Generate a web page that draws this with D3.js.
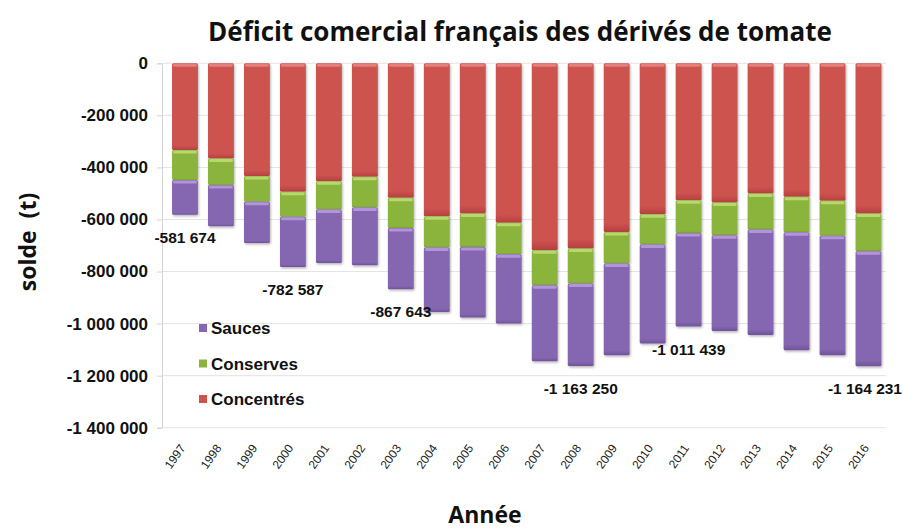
<!DOCTYPE html>
<html>
<head>
<meta charset="utf-8">
<script src="https://cdn.jsdelivr.net/npm/d3@7"></script>
<style>
  html, body { margin: 0; padding: 0; background: #fff; }
  svg { display: block; }
</style>
</head>
<body>
<svg id="chart" width="903" height="530"></svg>
<script>
// ---- Data (tonnes, trade deficit per product family) ----
const years = ["1997","1998","1999","2000","2001","2002","2003","2004","2005","2006",
               "2007","2008","2009","2010","2011","2012","2013","2014","2015","2016"];
const concentres = [333400, 365400, 433400, 493800, 452700, 436100, 516900, 587300, 576900, 613000,
                    718000, 711500, 647700, 579600, 525700, 534600, 500000, 513000, 528400, 576900];
const conserves  = [115400, 102600,  98900,  96200, 108800, 117700, 115400, 120400, 128500, 120400,
                    134700, 134600, 121500, 116500, 125800, 125800, 138400, 135800, 134600, 145000];
const sauces     = [132874, 157700, 157700, 192587, 205400, 221900, 235343, 247600, 271500, 266600,
                    292300, 317150, 352700, 380800, 359939, 368000, 405400, 453800, 458900, 442331];
const seriesNames = ["Concentrés", "Conserves", "Sauces"];
const legendOrder = ["Sauces", "Conserves", "Concentrés"];
const yTicks = [0, -200000, -400000, -600000, -800000, -1000000, -1200000, -1400000];
const labelledYears = ["1997", "2000", "2003", "2008", "2011", "2016"];
const titleText = "Déficit comercial français des dérivés de tomate";
const yTitle = "solde  (t)";
const xTitle = "Année";

// ---- Setup ----
const W = 903;
const svg = d3.select("#chart");
const fr = d3.formatLocale({decimal: ",", thousands: " ", grouping: [3], currency: ["", " €"], minus: "-"});
const fmt = fr.format(",d");

const colors = {
  "Concentrés": {base: "#cd5250", light: "#e8847f", dark: "#b4403e"},
  "Conserves":  {base: "#8bb43d", light: "#bddc72", dark: "#77a02c"},
  "Sauces":     {base: "#8566b0", light: "#b899e0", dark: "#6f539a"}
};

const rows = years.map((yr, i) => ({
  year: yr,
  "Concentrés": -concentres[i],
  "Conserves": -conserves[i],
  "Sauces": -sauces[i]
}));

const x = d3.scaleBand().domain(years).range([167, 886.5]).paddingInner(0.28).paddingOuter(0.14);
const y = d3.scaleLinear().domain([-1400000, 0]).range([427.7, 63.3]);

const defs = svg.append("defs");
const f = defs.append("filter").attr("id", "shadow").attr("x", "-20%").attr("y", "-5%").attr("width", "150%").attr("height", "115%");
f.append("feDropShadow").attr("dx", 1).attr("dy", 1.5).attr("stdDeviation", 1).attr("flood-color", "#000").attr("flood-opacity", 0.28);

const gid = k => "grad-" + k.replace(/[^a-z]/gi, "");
seriesNames.forEach(k => {
  const c = colors[k];
  const g = defs.append("linearGradient").attr("id", gid(k)).attr("x1", 0).attr("x2", 0).attr("y1", 0).attr("y2", 1);
  g.append("stop").attr("offset", "0%").attr("stop-color", c.base);
  g.append("stop").attr("offset", "95%").attr("stop-color", c.base);
  g.append("stop").attr("offset", "100%").attr("stop-color", c.dark);
});

// ---- Gridlines & axis ----
const grid = svg.append("g");
grid.selectAll("line").data(yTicks).join("line")
  .attr("x1", 162).attr("x2", 886)
  .attr("y1", d => y(d)).attr("y2", d => y(d))
  .attr("stroke", "#e4e4e4").attr("stroke-width", 1);

const yAxis = d3.axisLeft(y).tickValues(yTicks).tickFormat(d => fmt(d)).tickSize(5).tickPadding(9);
const ya = svg.append("g").attr("transform", "translate(162,0)").call(yAxis);
ya.select(".domain").attr("stroke", "#d4d4d4");
ya.selectAll(".tick line").attr("stroke", "#d4d4d4");
ya.selectAll(".tick text")
  .attr("font-family", "'Liberation Sans', Arial, sans-serif")
  .attr("font-weight", "bold").attr("font-size", 17).attr("fill", "#111");

// ---- Bars ----
const stack = d3.stack().keys(seriesNames).offset(d3.stackOffsetDiverging);
const stacked = stack(rows);
const segTop = d => y(Math.max(d[0], d[1]));
const segBot = d => y(Math.min(d[0], d[1]));
const barsG = svg.append("g").attr("filter", "url(#shadow)");
stacked.forEach(s => {
  const k = s.key;
  const c = colors[k];
  const g = barsG.append("g");
  g.selectAll("rect.main").data(s).join("rect").attr("class", "main")
    .attr("x", d => x(d.data.year))
    .attr("y", d => segTop(d))
    .attr("width", x.bandwidth())
    .attr("height", d => segBot(d) - segTop(d))
    .attr("rx", 1.5)
    .attr("fill", `url(#${gid(k)})`);
  g.selectAll("rect.hl").data(s).join("rect").attr("class", "hl")
    .attr("x", d => x(d.data.year) + 1)
    .attr("y", d => segTop(d) + 0.5)
    .attr("width", x.bandwidth() - 2)
    .attr("height", 3)
    .attr("rx", 1.5)
    .attr("fill", c.light).attr("opacity", 0.9);
});

// ---- Total labels ----
const totals = rows.map(r => ({year: r.year, total: r["Concentrés"] + r["Conserves"] + r["Sauces"]}));
svg.append("g").selectAll("text")
  .data(totals.filter(d => labelledYears.includes(d.year)))
  .join("text")
  .attr("x", d => x(d.year) + x.bandwidth() / 2)
  .attr("y", d => y(d.total) + 28)
  .attr("text-anchor", "middle")
  .attr("font-family", "'Liberation Sans', Arial, sans-serif")
  .attr("font-weight", "bold").attr("font-size", 15.5).attr("fill", "#111")
  .text(d => fmt(d.total))
  .each(function() {
    const t = d3.select(this);
    const w = this.getComputedTextLength();
    const cx = +t.attr("x");
    if (cx + w / 2 > W - 1) t.attr("x", W - 1 - w / 2);
  });

// ---- X labels ----
svg.append("g").selectAll("text").data(years).join("text")
  .attr("transform", d => `translate(${x(d) + x.bandwidth() / 2 + 1},${448}) rotate(-55)`)
  .attr("text-anchor", "end")
  .attr("font-family", "'Liberation Sans', Arial, sans-serif")
  .attr("font-size", 12).attr("fill", "#222")
  .text(d => d);

// ---- Legend ----
const lg = svg.append("g");
legendOrder.forEach((k, i) => {
  const cy = 328 + i * 35.5;
  lg.append("rect").attr("x", 199).attr("y", cy - 4).attr("width", 8).attr("height", 8).attr("fill", colors[k].base);
  lg.append("text").attr("x", 211).attr("y", cy + 6)
    .attr("font-family", "'Liberation Sans', Arial, sans-serif")
    .attr("font-weight", "bold").attr("font-size", 17).attr("fill", "#111")
    .text(k);
});

// ---- Titles ----
svg.append("text").attr("x", 520).attr("y", 41).attr("text-anchor", "middle")
  .attr("font-family", "'Open Sans', sans-serif").attr("font-weight", "bold").attr("font-size", 26).attr("fill", "#111")
  .text(titleText);
svg.append("text").attr("transform", "translate(36,242) rotate(-90)").attr("text-anchor", "middle")
  .attr("font-family", "'Open Sans', sans-serif").attr("font-weight", "bold").attr("font-size", 23).attr("fill", "#111")
  .attr("xml:space", "preserve").style("white-space", "pre")
  .text(yTitle);
svg.append("text").attr("x", 485).attr("y", 523).attr("text-anchor", "middle")
  .attr("font-family", "'Open Sans', sans-serif").attr("font-weight", "bold").attr("font-size", 23).attr("fill", "#111")
  .text(xTitle);
</script>
</body>
</html>
